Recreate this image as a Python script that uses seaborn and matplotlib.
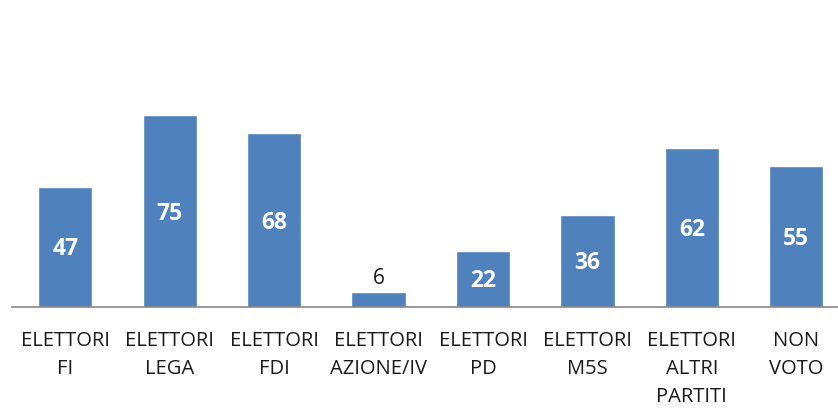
import matplotlib
matplotlib.use("Agg")
import matplotlib.pyplot as plt
import seaborn as sns
import pandas as pd

# data
categories = ["ELETTORI\nFI", "ELETTORI\nLEGA", "ELETTORI\nFDI", "ELETTORI\nAZIONE/IV",
              "ELETTORI\nPD", "ELETTORI\nM5S", "ELETTORI\nALTRI\nPARTITI", "NON\nVOTO"]
values = [47, 75, 68, 6, 22, 36, 62, 55]

df = pd.DataFrame({"categoria": categories, "valore": values})

sns.set_style("white")
plt.rcParams["font.family"] = ["Open Sans", "DejaVu Sans"]

fig = plt.figure(figsize=(8.38, 4.08), dpi=100)
ax = fig.add_axes([12 / 838, 101 / 408, 826 / 838, 256 / 408])

sns.barplot(data=df, x="categoria", y="valore", color="#4F81BD", saturation=1,
            width=0.52, ax=ax)

ax.set_xlim(-0.51, 7.40)
ax.set_ylim(0, 100)

# value labels: white bold in the middle, black above when the bar is too short
for i, v in enumerate(values):
    if v < 12:
        ax.text(i, v + 1.0, str(v), ha="center", va="bottom", fontsize=15, color="#1a1a1a")
    else:
        ax.text(i, v / 2 - 1.0, str(v), ha="center", va="center", fontsize=16.5,
                fontweight="bold", color="white")

ax.set_xlabel("")
ax.set_ylabel("")
ax.set_yticks([])
ax.tick_params(axis="x", length=0, pad=17, labelsize=14.5, labelcolor="#1a1a1a")
for lab in ax.get_xticklabels():
    lab.set_linespacing(1.55)
    lab.set_va("top")

for s in ["top", "right", "left"]:
    ax.spines[s].set_visible(False)
ax.spines["bottom"].set_color("#888888")
ax.spines["bottom"].set_linewidth(1.2)

fig.savefig("out.png", dpi=100)
